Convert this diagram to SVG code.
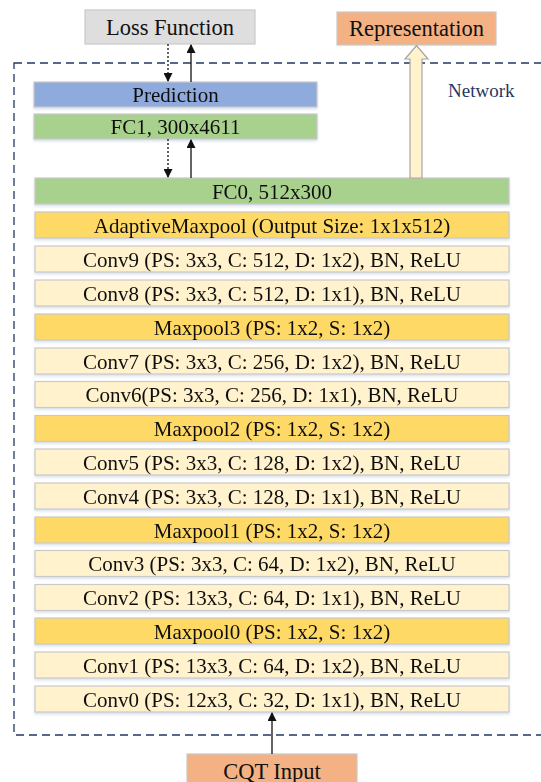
<svg xmlns="http://www.w3.org/2000/svg" width="541" height="782" viewBox="0 0 541 782">
  <defs>
    <style>
      .box { stroke: #c9c9c9; stroke-width: 1.2; }
      .conv { fill: #fff2cc; }
      .pool { fill: #ffd966; }
      .fc { fill: #a9d18e; }
      .pred { fill: #8faadc; }
      .loss { fill: #dedede; }
      .io { fill: #f4b183; }
      .lbl { font-family: "Liberation Serif", "Times New Roman", serif; font-size: 21px; fill: #111; text-anchor: middle; }
      .big { font-size: 22.5px; }
      .net { font-family: "Liberation Serif", "Times New Roman", serif; font-size: 19px; fill: #1f3864; }
      .solid { stroke: #111; stroke-width: 1.3; fill: none; }
      .dotted { stroke: #111; stroke-width: 1.3; fill: none; stroke-dasharray: 2 2; }
    </style>
    <marker id="head" viewBox="0 0 10 10" refX="9" refY="5" markerWidth="10" markerHeight="9" markerUnits="userSpaceOnUse" orient="auto">
      <path d="M0,0 L10,5 L0,10 z" fill="#111"/>
    </marker>
    <filter id="shadow" x="-5%" y="-20%" width="110%" height="160%">
      <feDropShadow dx="0" dy="2" stdDeviation="1.2" flood-color="#9db3d6" flood-opacity="0.35"/>
    </filter>
  </defs>

  <rect width="541" height="782" fill="#ffffff"/>

  <!-- network boundary -->
  <g id="network">
    <rect x="14" y="63" width="540" height="672" fill="none" stroke="#1f3864" stroke-width="1.3" stroke-dasharray="8 5"/>
    <text class="net" x="448" y="97">Network</text>
  </g>

  <g id="loss-function">
    <rect class="box loss" x="85" y="10" width="170" height="34"/>
    <text class="lbl big" x="170" y="35">Loss Function</text>
  </g>
  <g id="representation">
    <rect class="box io" x="337" y="12" width="159" height="33"/>
    <text class="lbl big" x="416.5" y="36">Representation</text>
  </g>
  <g id="prediction" filter="url(#shadow)">
    <rect class="box pred" x="34" y="82" width="283" height="25"/>
    <text class="lbl" x="175.5" y="101.5">Prediction</text>
  </g>
  <g id="fc1" filter="url(#shadow)">
    <rect class="box fc" x="34" y="114" width="283" height="25"/>
    <text class="lbl" x="175.5" y="133.5">FC1, 300x4611</text>
  </g>
  <g id="fc0" filter="url(#shadow)">
    <rect class="box fc" x="35" y="178" width="474" height="26"/>
    <text class="lbl" x="272" y="198.5">FC0, 512x300</text>
  </g>

  <g id="layers" filter="url(#shadow)">
    <g id="adaptive-maxpool"><rect class="box pool" x="35" y="212" width="474" height="26"/><text class="lbl" x="272" y="232.5">AdaptiveMaxpool (Output Size: 1x1x512)</text></g>
    <g id="conv9"><rect class="box conv" x="35" y="246" width="474" height="26"/><text class="lbl" x="272" y="266.5">Conv9 (PS: 3x3, C: 512, D: 1x2), BN, ReLU</text></g>
    <g id="conv8"><rect class="box conv" x="35" y="280" width="474" height="26"/><text class="lbl" x="272" y="300.5">Conv8 (PS: 3x3, C: 512, D: 1x1), BN, ReLU</text></g>
    <g id="maxpool3"><rect class="box pool" x="35" y="314" width="474" height="26"/><text class="lbl" x="272" y="334.5">Maxpool3 (PS: 1x2, S: 1x2)</text></g>
    <g id="conv7"><rect class="box conv" x="35" y="348" width="474" height="26"/><text class="lbl" x="272" y="368.5">Conv7 (PS: 3x3, C: 256, D: 1x2), BN, ReLU</text></g>
    <g id="conv6"><rect class="box conv" x="35" y="381.5" width="474" height="26"/><text class="lbl" x="272" y="402">Conv6(PS: 3x3, C: 256, D: 1x1), BN, ReLU</text></g>
    <g id="maxpool2"><rect class="box pool" x="35" y="415.5" width="474" height="26"/><text class="lbl" x="272" y="436">Maxpool2 (PS: 1x2, S: 1x2)</text></g>
    <g id="conv5"><rect class="box conv" x="35" y="449" width="474" height="26"/><text class="lbl" x="272" y="469.5">Conv5 (PS: 3x3, C: 128, D: 1x2), BN, ReLU</text></g>
    <g id="conv4"><rect class="box conv" x="35" y="483" width="474" height="26"/><text class="lbl" x="272" y="503.5">Conv4 (PS: 3x3, C: 128, D: 1x1), BN, ReLU</text></g>
    <g id="maxpool1"><rect class="box pool" x="35" y="517" width="474" height="26"/><text class="lbl" x="272" y="537.5">Maxpool1 (PS: 1x2, S: 1x2)</text></g>
    <g id="conv3"><rect class="box conv" x="35" y="550.5" width="474" height="26"/><text class="lbl" x="272" y="571">Conv3 (PS: 3x3, C: 64, D: 1x2), BN, ReLU</text></g>
    <g id="conv2"><rect class="box conv" x="35" y="584.5" width="474" height="26"/><text class="lbl" x="272" y="605">Conv2 (PS: 13x3, C: 64, D: 1x1), BN, ReLU</text></g>
    <g id="maxpool0"><rect class="box pool" x="35" y="618" width="474" height="26"/><text class="lbl" x="272" y="638.5">Maxpool0 (PS: 1x2, S: 1x2)</text></g>
    <g id="conv1"><rect class="box conv" x="35" y="652" width="474" height="26"/><text class="lbl" x="272" y="672.5">Conv1 (PS: 13x3, C: 64, D: 1x2), BN, ReLU</text></g>
    <g id="conv0"><rect class="box conv" x="35" y="686" width="474" height="26"/><text class="lbl" x="272" y="706.5">Conv0 (PS: 12x3, C: 32, D: 1x1), BN, ReLU</text></g>
  </g>

  <g id="cqt-input">
    <rect class="box io" x="187" y="754" width="170" height="34"/>
    <text class="lbl big" x="272" y="779">CQT Input</text>
  </g>

  <!-- connectors -->
  <g id="connectors">
    <line class="dotted" x1="168" y1="44" x2="168" y2="81" marker-end="url(#head)"/>
    <line class="solid" x1="191" y1="82" x2="191" y2="45" marker-end="url(#head)"/>
    <line class="dotted" x1="168" y1="139" x2="168" y2="177" marker-end="url(#head)"/>
    <line class="solid" x1="191" y1="178" x2="191" y2="140" marker-end="url(#head)"/>
    <line class="solid" x1="272" y1="754" x2="272" y2="713" marker-end="url(#head)"/>
    <path d="M410,178 L410,59 L405,59 L416.5,45.5 L428,59 L422,59 L422,178 Z" fill="#fff2cc" stroke="#a6a6a6" stroke-width="1.2"/>
  </g>
</svg>
